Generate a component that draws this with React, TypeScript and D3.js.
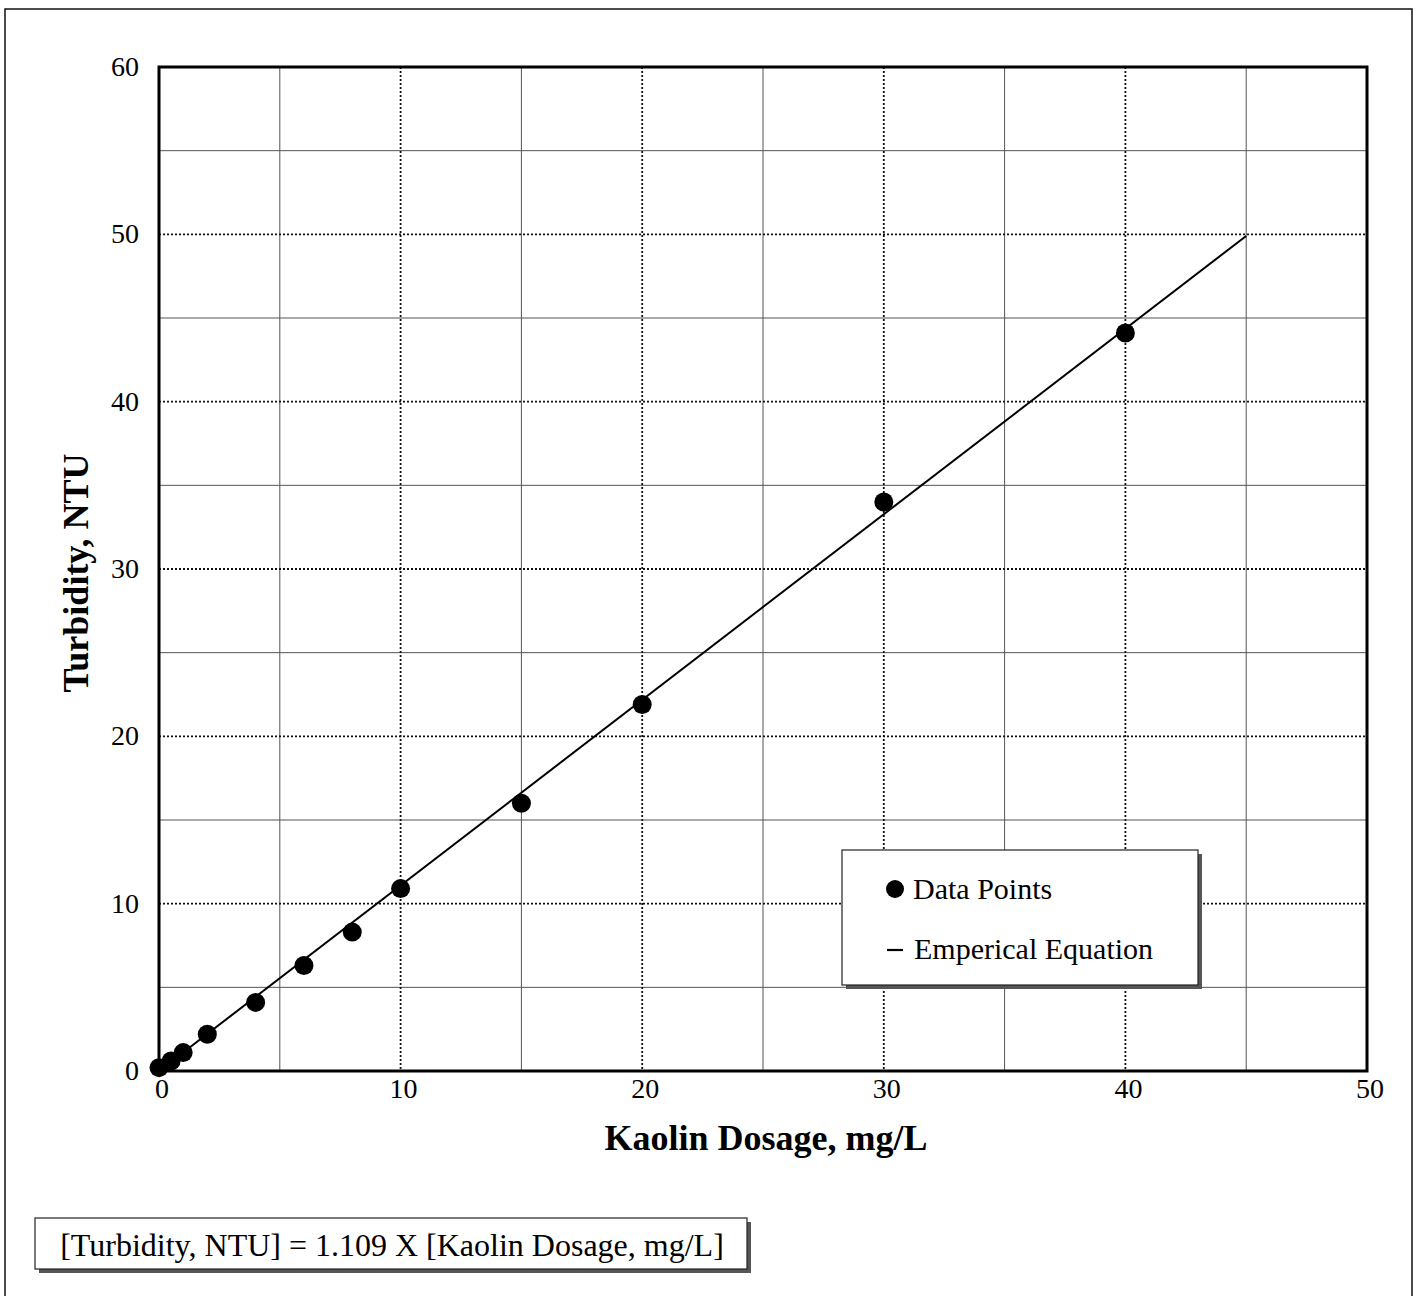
import React from "react";
import * as d3 from "d3";

const dosage = [0, 0.5, 1, 2, 4, 6, 8, 10, 15, 20, 30, 40];
const turbidity = [0.2, 0.6, 1.1, 2.2, 4.1, 6.3, 8.3, 10.9, 16.0, 21.9, 34.0, 44.1];
const slope = 1.109;
const fitRange = [0, 45];
const xTicks = [0, 10, 20, 30, 40, 50];
const yTicks = [0, 10, 20, 30, 40, 50, 60];
const xMinor = [5, 15, 25, 35, 45];
const yMinor = [5, 15, 25, 35, 45, 55];
const xTitle = "Kaolin Dosage, mg/L";
const yTitle = "Turbidity, NTU";
const legendLabels = ["Data Points", "Emperical Equation"];
const equationText = "[Turbidity, NTU] = 1.109 X [Kaolin Dosage, mg/L]";

const W = 1420;
const H = 1296;
const L = 159, R = 1367, T = 67, B = 1071;
const font = "'Liberation Serif', 'Times New Roman', serif";

export default function App() {
  const x = d3.scaleLinear().domain([0, 50]).range([L, R]);
  const y = d3.scaleLinear().domain([0, 60]).range([B, T]);
  const line = d3.line<number>().x((d) => x(d)).y((d) => y(slope * d));

  return (
    <svg width={W} height={H} style={{ position: "absolute", left: 0, top: 0, background: "#fff" }}>
      <rect x={0} y={0} width={W} height={H} fill="#fff" />
      {/* outer frame */}
      <rect x={5} y={9} width={1407} height={1300} fill="none" stroke="#111" strokeWidth={1.5} />

      {/* minor grid: solid gray */}
      {xMinor.map((v) => (
        <line key={"xm" + v} x1={x(v)} x2={x(v)} y1={T} y2={B} stroke="#555" strokeWidth={1} />
      ))}
      {yMinor.map((v) => (
        <line key={"ym" + v} x1={L} x2={R} y1={y(v)} y2={y(v)} stroke="#555" strokeWidth={1} />
      ))}
      {/* major grid: dotted */}
      {xTicks.filter((v) => v > 0 && v < 50).map((v) => (
        <line key={"xg" + v} x1={x(v)} x2={x(v)} y1={T} y2={B} stroke="#111" strokeWidth={1.8} strokeDasharray="2,2" />
      ))}
      {yTicks.filter((v) => v > 0 && v < 60).map((v) => (
        <line key={"yg" + v} x1={L} x2={R} y1={y(v)} y2={y(v)} stroke="#111" strokeWidth={1.8} strokeDasharray="2,2" />
      ))}

      {/* plot frame */}
      <rect x={L} y={T} width={R - L} height={B - T} fill="none" stroke="#000" strokeWidth={3} />

      {/* fit line */}
      <path d={line(fitRange) || ""} fill="none" stroke="#000" strokeWidth={2} />

      {/* points */}
      {dosage.map((d, i) => (
        <circle key={"p" + i} cx={x(d)} cy={y(turbidity[i])} r={9.5} fill="#000" />
      ))}

      {/* tick labels */}
      {xTicks.map((v) => (
        <text key={"xt" + v} x={x(v) + 3} y={B + 27} textAnchor="middle" fontFamily={font} fontSize={28} fill="#000">{v}</text>
      ))}
      {yTicks.map((v) => (
        <text key={"yt" + v} x={L - 20} y={y(v) + 9} textAnchor="end" fontFamily={font} fontSize={28} fill="#000">{v}</text>
      ))}

      {/* axis titles */}
      <text x={766} y={1150} textAnchor="middle" fontFamily={font} fontSize={36} fontWeight="bold" fill="#000">{xTitle}</text>
      <text transform={`translate(88, ${573}) rotate(-90)`} textAnchor="middle" fontFamily={font} fontSize={36} fontWeight="bold" fill="#000">{yTitle}</text>

      {/* legend */}
      <rect x={846} y={854} width={356} height={135} fill="#555" />
      <rect x={842} y={850} width={356} height={135} fill="#fff" stroke="#222" strokeWidth={1.2} />
      <circle cx={895} cy={889} r={9} fill="#000" />
      <text x={913} y={899} fontFamily={font} fontSize={30} fill="#000">{legendLabels[0]}</text>
      <line x1={887} x2={903} y1={950} y2={950} stroke="#000" strokeWidth={2.2} />
      <text x={914} y={959} fontFamily={font} fontSize={30} fill="#000">{legendLabels[1]}</text>

      {/* equation box */}
      <rect x={39} y={1222} width={712} height={51} fill="#555" />
      <rect x={35} y={1218} width={712} height={51} fill="#fff" stroke="#222" strokeWidth={1.2} />
      <text x={392} y={1256} textAnchor="middle" fontFamily={font} fontSize={32} fill="#000">{equationText}</text>
    </svg>
  );
}
